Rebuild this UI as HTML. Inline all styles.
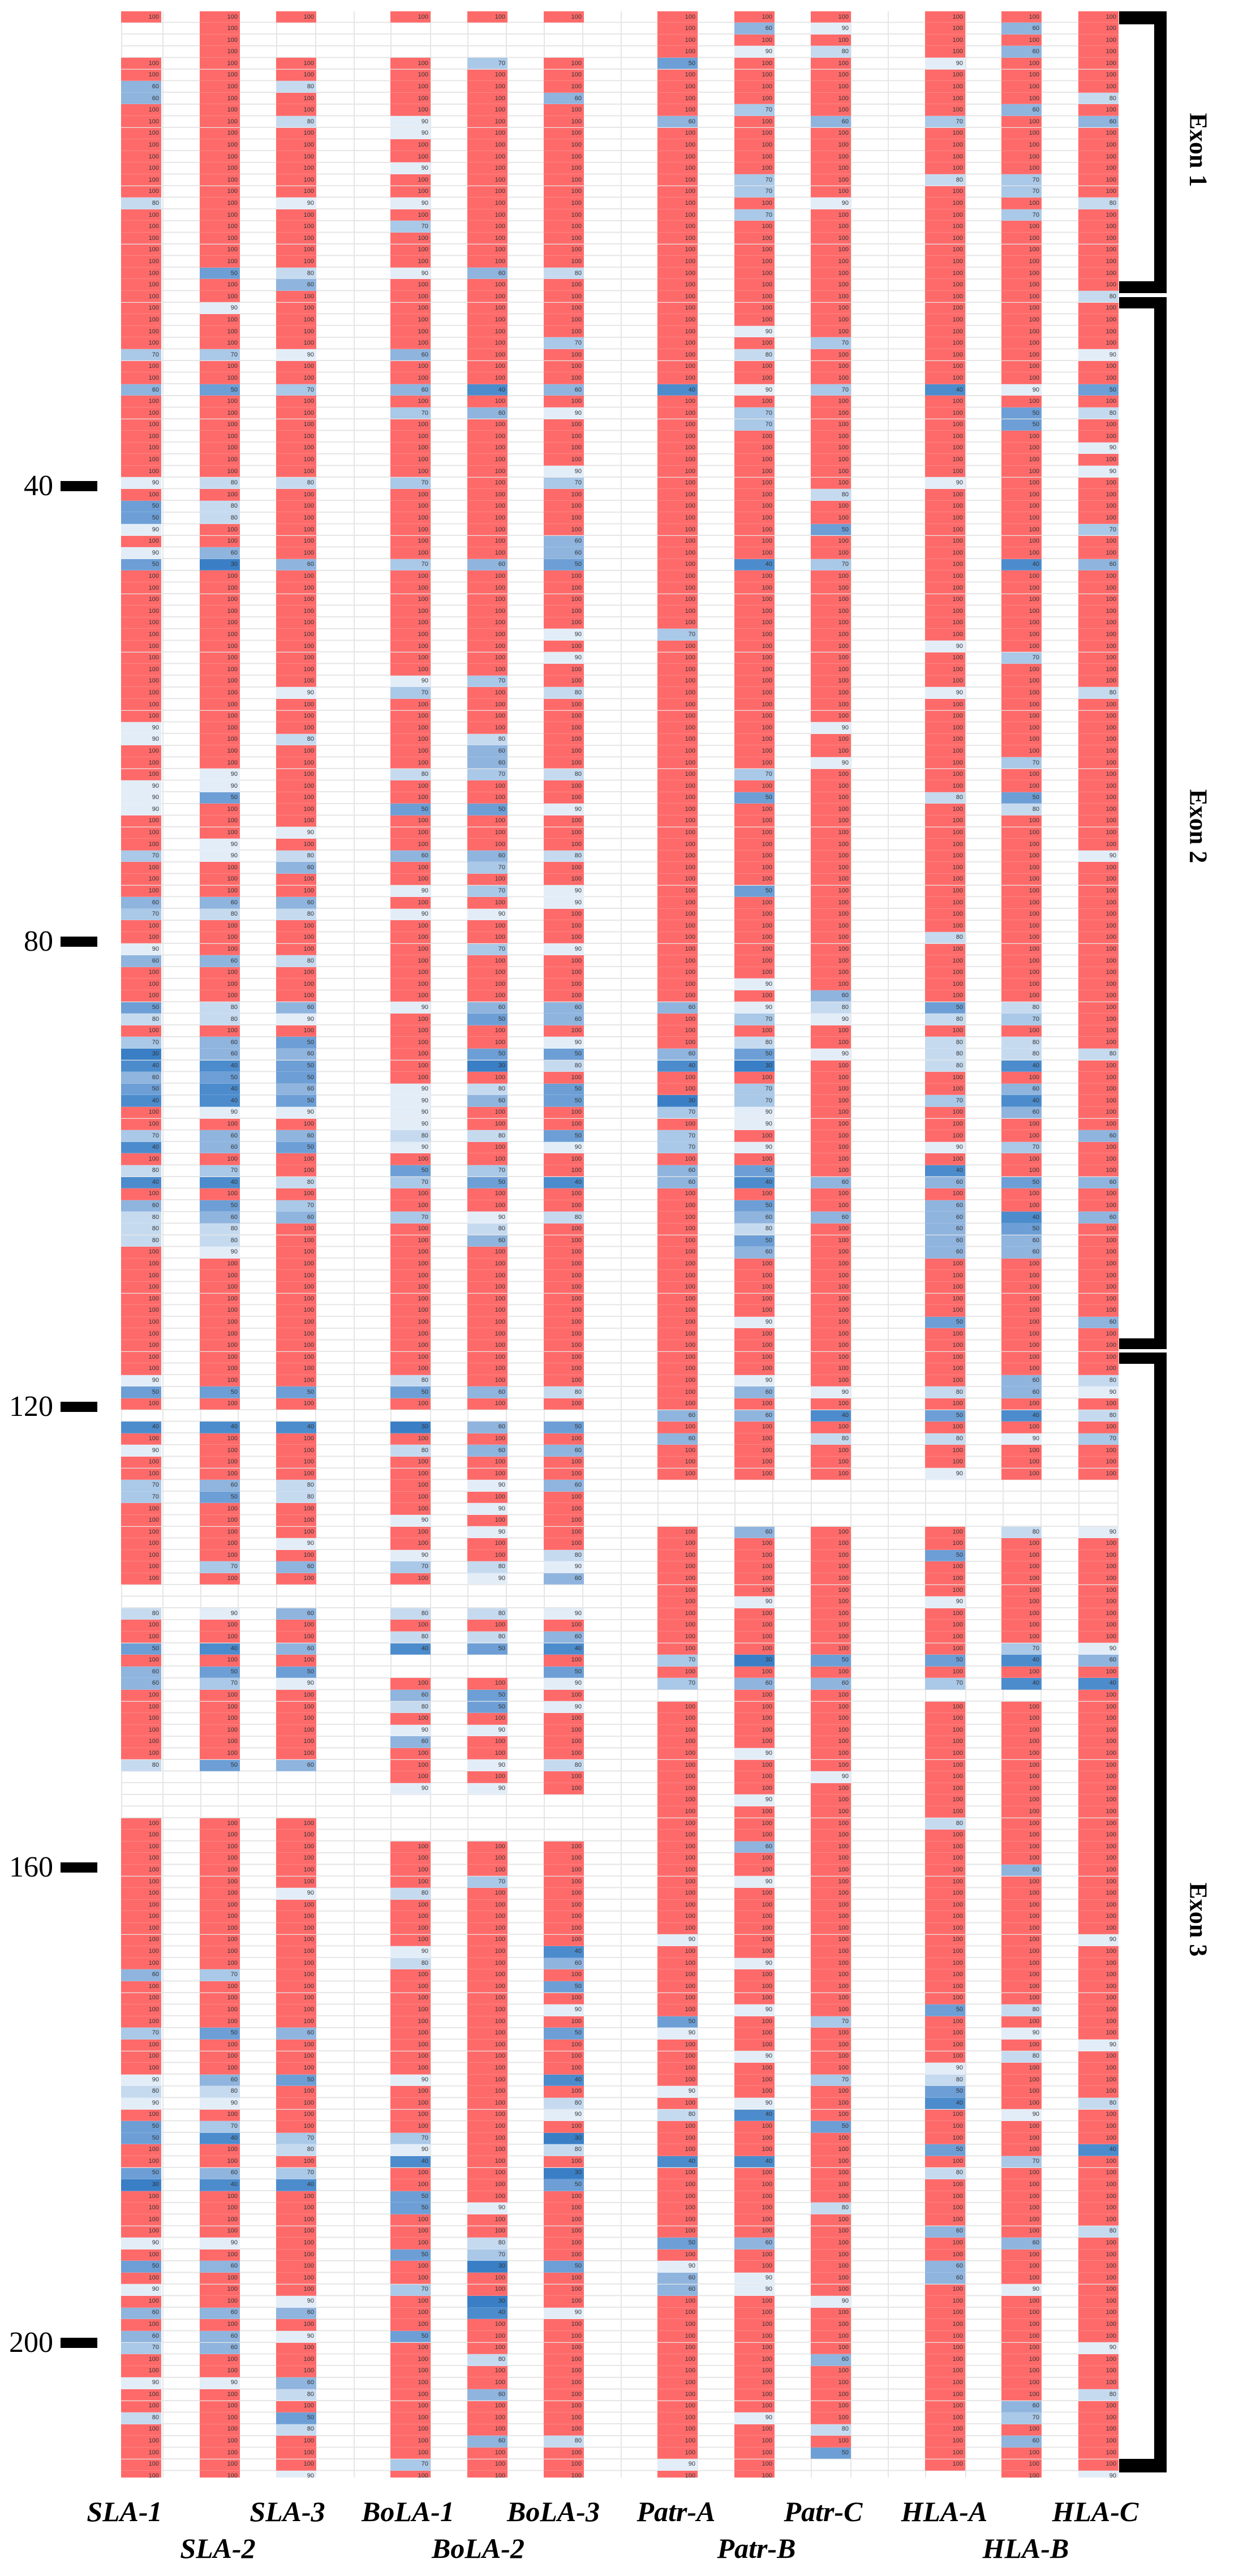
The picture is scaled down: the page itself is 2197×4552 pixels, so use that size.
<!DOCTYPE html>
<html><head><meta charset="utf-8">
<style>
html,body{margin:0;padding:0;background:#fff;}
#wrap{position:relative;width:2197px;height:4552px;overflow:hidden;background:#fff;}
#grid{position:absolute;left:214px;top:19.5px;width:1762px;height:4360px;
background-image:repeating-linear-gradient(to bottom,transparent 0,transparent 18.6px,#e6e6e6 18.6px,#e6e6e6 20.6px);}
.vl{position:absolute;top:19.5px;height:4360px;width:1.5px;background:#e6e6e6;}
.cell{position:absolute;width:71px;height:20.6px;z-index:1;box-shadow:inset 0 -1px 0 rgba(255,255,255,0.18);}
pre.c{position:absolute;top:19.5px;width:67px;padding:0 4px 0 0;margin:0;font-family:"Liberation Sans",sans-serif;font-size:11px;line-height:20.6px;text-align:right;color:#333;z-index:2;height:4360px;overflow:hidden;}
.tk{position:absolute;font-family:"Liberation Serif",serif;font-size:52px;line-height:52px;color:#000;text-align:right;width:100px;left:-6px;}
.dash{position:absolute;left:107px;width:65px;height:18px;background:#000;}
.bar{position:absolute;background:#000;}
.ex{position:absolute;font-family:"Liberation Serif",serif;font-weight:bold;font-size:44px;color:#000;white-space:nowrap;transform:translate(-50%,-50%) rotate(90deg);}
.lb{position:absolute;font-family:"Liberation Serif",serif;font-weight:bold;font-style:italic;font-size:50px;color:#000;white-space:nowrap;transform:translate(-50%,-50%);}
#clip{position:absolute;left:0;top:0;width:2197px;height:4378px;overflow:hidden;}
</style></head><body>
<div id="wrap">
<div id="clip">
<div id="grid"></div>
<div class="vl" style="left:214px"></div><div class="vl" style="left:287px"></div><div class="vl" style="left:354px"></div><div class="vl" style="left:420px"></div><div class="vl" style="left:488px"></div><div class="vl" style="left:557px"></div><div class="vl" style="left:625px"></div><div class="vl" style="left:690px"></div><div class="vl" style="left:760px"></div><div class="vl" style="left:826px"></div><div class="vl" style="left:894px"></div><div class="vl" style="left:961px"></div><div class="vl" style="left:1029px"></div><div class="vl" style="left:1097px"></div><div class="vl" style="left:1162px"></div><div class="vl" style="left:1232px"></div><div class="vl" style="left:1298px"></div><div class="vl" style="left:1365px"></div><div class="vl" style="left:1433px"></div><div class="vl" style="left:1503px"></div><div class="vl" style="left:1569px"></div><div class="vl" style="left:1635px"></div><div class="vl" style="left:1706px"></div><div class="vl" style="left:1772px"></div><div class="vl" style="left:1839px"></div><div class="vl" style="left:1906px"></div><div class="vl" style="left:1975px"></div>

<pre class="c" style="left:214px">100



100
100
60
60
100
100
100
100
100
100
100
100
80
100
100
100
100
100
100
100
100
100
100
100
100
70
100
100
60
100
100
100
100
100
100
100
90
100
50
50
90
100
90
50
100
100
100
100
100
100
100
100
100
100
100
100
100
90
90
100
100
100
90
90
90
100
100
100
70
100
100
100
60
70
100
100
90
60
100
100
100
50
80
100
70
30
40
60
50
40
100
100
70
40
100
80
40
100
60
80
80
80
100
100
100
100
100
100
100
100
100
100
100
90
50
100

40
100
90
100
100
70
70
100
100
100
100
100
100
100


80
100
100
50
100
60
60
100
100
100
100
100
100
80




100
100
100
100
100
100
100
100
100
100
100
100
100
60
100
100
100
100
70
100
100
100
90
80
90
100
50
50
100
100
50
30
100
100
100
100
90
100
50
100
90
100
60
100
60
70
100
100
90
100
100
80
100
100
100
100
100
</pre>

<pre class="c" style="left:353px">100
100
100
100
100
100
100
100
100
100
100
100
100
100
100
100
100
100
100
100
100
100
50
100
100
90
100
100
100
70
100
100
50
100
100
100
100
100
100
100
80
100
80
80
100
100
60
30
100
100
100
100
100
100
100
100
100
100
100
100
100
100
100
100
100
90
90
50
100
100
100
90
90
100
100
100
60
80
100
100
100
60
100
100
100
80
80
100
60
60
40
50
40
40
90
100
60
60
100
70
40
100
50
60
80
80
90
100
100
100
100
100
100
100
100
100
100
100
50
100

40
100
100
100
100
60
50
100
100
100
100
100
70
100


90
100
100
40
100
50
70
100
100
100
100
100
100
50




100
100
100
100
100
100
100
100
100
100
100
100
100
70
100
100
100
100
50
100
100
100
60
80
90
100
70
40
100
100
60
40
100
100
100
100
90
100
60
100
100
100
60
100
60
60
100
100
90
100
100
100
100
100
100
100
100
</pre>

<pre class="c" style="left:488px">100



100
100
80
100
100
80
100
100
100
100
100
100
90
100
100
100
100
100
80
60
100
100
100
100
100
90
100
100
70
100
100
100
100
100
100
100
80
100
100
100
100
100
100
60
100
100
100
100
100
100
100
100
100
100
90
100
100
100
80
100
100
100
100
100
100
100
90
100
80
60
100
100
60
80
100
100
100
80
100
100
100
60
90
100
50
60
50
50
60
50
90
100
60
50
100
100
80
100
70
60
100
100
100
100
100
100
100
100
100
100
100
100
100
100
50
100

40
100
100
100
100
80
80
100
100
100
90
100
60
100


60
100
100
60
100
50
90
100
100
100
100
100
100
60




100
100
100
100
100
100
90
100
100
100
100
100
100
100
100
100
100
100
60
100
100
100
50
100
100
100
100
70
80
100
70
40
100
100
100
100
100
100
100
100
100
90
60
100
90
100
100
100
60
80
100
50
80
100
100
100
90
</pre>

<pre class="c" style="left:690px">100



100
100
100
100
100
90
90
100
100
90
100
100
90
100
70
100
100
100
90
100
100
100
100
100
100
60
100
100
60
100
70
100
100
100
100
100
70
100
100
100
100
100
100
70
100
100
100
100
100
100
100
100
100
90
70
100
100
100
100
100
100
80
100
100
50
100
100
100
60
100
100
90
100
90
100
100
100
100
100
100
100
90
100
100
100
100
100
100
90
90
90
90
80
90
100
50
70
100
100
70
100
100
100
100
100
100
100
100
100
100
100
100
100
80
50
100

30
100
80
100
100
100
100
100
90
100
100
90
70
100


80
100
80
40


100
60
80
100
90
60
100
100
100
90




100
100
100
100
80
100
100
100
100
90
80
100
100
100
100
100
100
100
100
100
90
100
100
100
100
70
90
40
100
100
50
50
100
100
100
50
100
100
70
100
100
100
50
100
100
100
100
100
100
100
100
100
100
70
100
</pre>

<pre class="c" style="left:826px">100



70
100
100
100
100
100
100
100
100
100
100
100
100
100
100
100
100
100
60
100
100
100
100
100
100
100
100
100
40
100
60
100
100
100
100
100
100
100
100
100
100
100
100
60
100
100
100
100
100
100
100
100
100
70
100
100
100
100
80
60
60
70
100
100
50
100
100
100
60
70
100
70
100
90
100
100
70
100
100
100
100
60
50
100
100
50
30
100
80
60
100
100
80
100
100
70
50
100
100
90
80
60
100
100
100
100
100
100
100
100
100
100
100
100
60
100

60
100
60
100
100
90
100
90
100
90
100
100
80
90


80
100
80
50


100
50
50
100
90
100
100
90
100
90




100
100
100
70
100
100
100
100
100
100
100
100
100
100
100
100
100
100
100
100
100
100
100
100
100
100
100
100
100
100
100
90
100
100
80
70
30
100
100
30
40
100
100
100
80
100
100
60
100
100
100
60
100
100
100
100
100
100
90
100
100
100
60
100
</pre>

<pre class="c" style="left:961px">100



100
100
100
60
100
100
100
100
100
100
100
100
100
100
100
100
100
100
80
100
100
100
100
100
70
100
100
100
60
100
90
100
100
100
100
90
70
100
100
100
100
60
60
50
100
100
100
100
100
90
100
90
100
100
80
100
100
100
100
100
100
80
100
100
90
100
100
100
80
100
100
90
90
100
100
100
90
100
100
100
100
60
60
100
90
50
80
100
50
50
100
100
50
90
100
100
40
100
100
80
100
100
100
100
100
100
100
100
100
100
100
100
100
100
80
100

50
100
60
100
100
60
100
100
100
100
100
80
90
60


90
100
60
40
100
50
90
100
90
100
100
100
100
80
100
100




100
100
100
100
100
100
100
100
100
40
60
100
50
100
90
100
50
100
100
100
40
100
80
90
100
30
80
100
30
50
100
100
100
100
100
100
50
100
100
100
90
100
100
100
100
100
100
100
100
100
100
80
100
100
100
</pre>

<pre class="c" style="left:1162px">100
100
100
100
50
100
100
100
100
60
100
100
100
100
100
100
100
100
100
100
100
100
100
100
100
100
100
100
100
100
100
100
40
100
100
100
100
100
100
100
100
100
100
100
100
100
100
100
100
100
100
100
100
70
100
100
100
100
100
100
100
100
100
100
100
100
100
100
100
100
100
100
100
100
100
100
100
100
100
100
100
100
100
100
100
60
100
100
100
60
40
100
100
30
70
100
70
70
100
60
60
100
100
100
100
100
100
100
100
100
100
100
100
100
100
100
100
100
100
100
60
100
60
100
100
100




100
100
100
100
100
100
100
100
100
100
100
70
100
70

100
100
100
100
100
100
100
100
100
100
100
100
100
100
100
100
100
100
100
100
90
100
100
100
100
100
100
50
90
100
100
100
100
90
100
80
100
100
100
40
100
100
100
100
100
100
50
100
90
60
60
100
100
100
100
100
100
100
100
100
100
100
100
100
100
90
100
</pre>

<pre class="c" style="left:1298px">100
60
100
90
100
100
100
100
70
100
100
100
100
100
70
70
100
70
100
100
100
100
100
100
100
100
100
90
100
80
100
100
90
100
70
70
100
100
100
100
100
100
100
100
100
100
100
40
100
100
100
100
100
100
100
100
100
100
100
100
100
100
100
100
100
70
100
50
100
100
100
100
100
100
100
50
100
100
100
100
100
100
100
90
100
90
70
100
80
50
30
100
70
70
90
90
100
90
100
50
40
100
50
60
80
50
60
100
100
100
100
100
90
100
100
100
100
90
60
100
60
100
100
100
100
100




60
100
100
100
100
100
90
100
100
100
100
30
100
60
100
100
100
100
100
90
100
100
100
90
100
100
100
60
100
100
90
100
100
100
100
100
100
90
100
100
100
90
100
100
100
90
100
100
100
90
40
100
100
100
40
100
100
100
100
100
100
60
100
100
90
90
100
100
100
100
100
100
100
100
100
100
90
100
100
100
100
100
</pre>

<pre class="c" style="left:1433px">100
90
100
80
100
100
100
100
100
60
100
100
100
100
100
100
90
100
100
100
100
100
100
100
100
100
100
100
70
100
100
100
70
100
100
100
100
100
100
100
100
80
100
100
50
100
100
70
100
100
100
100
100
100
100
100
100
100
100
100
100
90
100
100
90
100
100
100
100
100
100
100
100
100
100
100
100
100
100
100
100
100
100
100
60
80
90
100
100
90
100
100
100
100
100
100
100
100
100
100
60
100
100
60
100
100
100
100
100
100
100
100
100
100
100
100
100
100
90
100
40
100
80
100
100
100




100
100
100
100
100
100
100
100
100
100
100
50
100
60
100
100
100
100
100
100
100
90
100
100
100
100
100
100
100
100
100
100
100
100
100
100
100
100
100
100
100
100
70
100
100
100
100
70
100
100
100
50
100
100
100
100
100
100
80
100
100
100
100
100
100
100
90
100
100
100
100
60
100
100
100
100
100
80
100
50
</pre>

<pre class="c" style="left:1635px">100
100
100
100
90
100
100
100
100
70
100
100
100
100
80
100
100
100
100
100
100
100
100
100
100
100
100
100
100
100
100
100
40
100
100
100
100
100
100
100
90
100
100
100
100
100
100
100
100
100
100
100
100
100
90
100
100
100
90
100
100
100
100
100
100
100
100
80
100
100
100
100
100
100
100
100
100
100
100
80
100
100
100
100
100
50
80
100
80
80
80
100
100
70
100
100
100
90
100
40
60
100
60
60
60
60
60
100
100
100
100
100
50
100
100
100
100
100
80
100
50
100
80
100
100
90




100
100
50
100
100
100
90
100
100
100
100
50
100
70

100
100
100
100
100
100
100
100
100
100
80
100
100
100
100
100
100
100
100
100
100
100
100
100
100
100
50
100
100
100
100
90
80
50
40
100
100
100
50
100
80
100
100
100
100
60
100
100
60
60
100
100
100
100
100
100
100
100
100
100
100
100
100
100
100
100
</pre>

<pre class="c" style="left:1770px">100
60
100
60
100
100
100
100
60
100
100
100
100
100
70
70
100
70
100
100
100
100
100
100
100
100
100
100
100
100
100
100
90
100
50
50
100
100
100
100
100
100
100
100
100
100
100
40
100
100
100
100
100
100
100
70
100
100
100
100
100
100
100
100
70
100
100
50
80
100
100
100
100
100
100
100
100
100
100
100
100
100
100
100
100
80
70
100
80
80
40
100
60
40
60
100
100
70
100
100
50
100
100
40
50
60
60
100
100
100
100
100
100
100
100
100
100
60
60
100
40
100
90
100
100
100




80
100
100
100
100
100
100
100
100
100
70
40
100
40

100
100
100
100
100
100
100
100
100
100
100
100
100
100
60
100
100
100
100
100
100
100
100
100
100
100
80
100
90
100
80
100
100
100
100
90
100
100
100
70
100
100
100
100
100
100
60
100
100
100
90
100
100
100
100
100
100
100
100
100
60
70
100
60
100
100
100
</pre>

<pre class="c" style="left:1906px">100
100
100
100
100
100
100
80
100
60
100
100
100
100
100
100
80
100
100
100
100
100
100
100
80
100
100
100
100
90
100
100
50
100
80
100
100
90
100
90
100
100
100
100
70
100
100
60
100
100
100
100
100
100
100
100
100
100
80
100
100
100
100
100
100
100
100
100
100
100
100
100
90
100
100
100
100
100
100
100
100
100
100
100
100
100
100
100
100
80
100
100
100
100
100
100
60
100
100
100
60
100
100
60
100
100
100
100
100
100
100
100
60
100
100
100
100
80
90
100
80
100
70
100
100
100




90
100
100
100
100
100
100
100
100
100
90
60
100
40
100
100
100
100
100
100
100
100
100
100
100
100
100
100
100
100
100
100
100
100
100
90
100
100
100
100
100
100
100
100
90
100
100
100
100
80
100
100
100
40
100
100
100
100
100
100
80
100
100
100
100
100
100
100
100
100
90
100
100
100
80
100
100
100
100
100
100
90
</pre>
</div>

<div class="tk" style="top:833px">40</div><div class="dash" style="top:850px"></div>
<div class="tk" style="top:1638px">80</div><div class="dash" style="top:1655px"></div>
<div class="tk" style="top:2460px">120</div><div class="dash" style="top:2477px"></div>
<div class="tk" style="top:3274px">160</div><div class="dash" style="top:3291px"></div>
<div class="tk" style="top:4114px">200</div><div class="dash" style="top:4131px"></div>

<div class="bar" style="left:1978px;top:20px;width:84px;height:23px"></div>
<div class="bar" style="left:2040px;top:20px;width:22px;height:498px"></div>
<div class="bar" style="left:1978px;top:497px;width:84px;height:21px"></div>
<div class="bar" style="left:1978px;top:525px;width:84px;height:20px"></div>
<div class="bar" style="left:2040px;top:525px;width:22px;height:1859px"></div>
<div class="bar" style="left:1978px;top:2365px;width:84px;height:19px"></div>
<div class="bar" style="left:1978px;top:2390px;width:84px;height:20px"></div>
<div class="bar" style="left:2040px;top:2390px;width:22px;height:1979px"></div>
<div class="bar" style="left:1978px;top:4345px;width:84px;height:24px"></div>

<div class="ex" style="left:2118px;top:265px">Exon 1</div>
<div class="ex" style="left:2118px;top:1460px">Exon 2</div>
<div class="ex" style="left:2118px;top:3392px">Exon 3</div>

<div class="lb" style="left:220px;top:4438px">SLA-1</div>
<div class="lb" style="left:508px;top:4438px">SLA-3</div>
<div class="lb" style="left:721px;top:4438px">BoLA-1</div>
<div class="lb" style="left:978px;top:4438px">BoLA-3</div>
<div class="lb" style="left:1195px;top:4438px">Patr-A</div>
<div class="lb" style="left:1455px;top:4438px">Patr-C</div>
<div class="lb" style="left:1669px;top:4438px">HLA-A</div>
<div class="lb" style="left:1936px;top:4438px">HLA-C</div>
<div class="lb" style="left:385px;top:4503px">SLA-2</div>
<div class="lb" style="left:845px;top:4503px">BoLA-2</div>
<div class="lb" style="left:1337px;top:4503px">Patr-B</div>
<div class="lb" style="left:1813px;top:4503px">HLA-B</div>
</div>
<script>
(function(){
var col={'100':'#fe6a6a','90':'#e3edf8','80':'#c6daef','70':'#aac8e7','60':'#8fb4de','50':'#6d9fd6','40':'#4c8ccd','30':'#3a7fc6'};
var clip=document.getElementById('clip');
var pres=document.querySelectorAll('pre.c');
for(var k=0;k<pres.length;k++){
 var p=pres[k];var lines=p.textContent.split('\n');var left=p.style.left;
 for(var i=0;i<lines.length;i++){
  var v=lines[i].trim();if(!col[v])continue;
  var d=document.createElement('div');d.className='cell';
  d.style.top=(19.5+i*20.6)+'px';d.style.left=left;d.style.background=col[v];
  clip.appendChild(d);
 }
}
})();
</script>
</body></html>
